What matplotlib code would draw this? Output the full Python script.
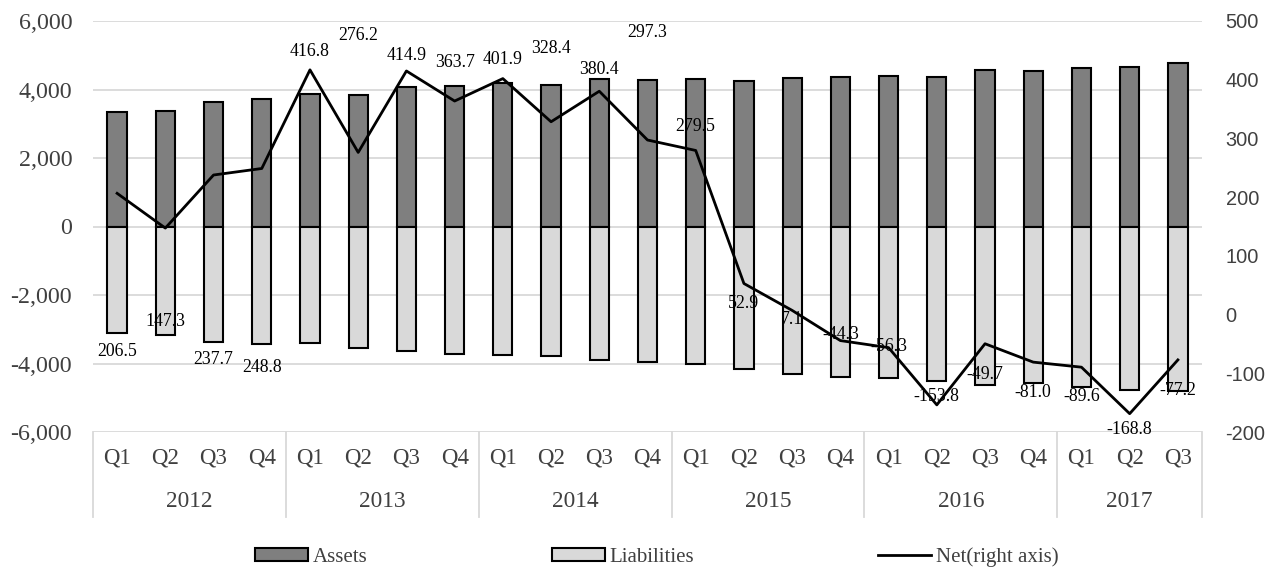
import matplotlib
matplotlib.use("Agg")
import matplotlib.pyplot as plt
from matplotlib.patches import Patch
from matplotlib.lines import Line2D
import numpy as np

quarters = ["Q1", "Q2", "Q3", "Q4"] * 5 + ["Q1", "Q2", "Q3"]
years = ["2012", "2013", "2014", "2015", "2016", "2017"]
year_counts = [4, 4, 4, 4, 4, 3]

assets = [3330, 3359, 3640, 3718, 3864, 3845, 4068, 4097, 4194, 4126, 4301, 4272,
          4311, 4243, 4350, 4369, 4408, 4379, 4573, 4553, 4641, 4660, 4777]
liabilities = [-3107, -3175, -3369, -3437, -3408, -3544, -3631, -3709, -3757, -3777, -3893, -3951,
               -4000, -4155, -4311, -4388, -4427, -4505, -4621, -4583, -4699, -4777, -4816]
net = [206.5, 147.3, 237.7, 248.8, 416.8, 276.2, 414.9, 363.7, 401.9, 328.4, 380.4, 297.3,
       279.5, 52.9, 7.1, -44.3, -56.3, -153.8, -49.7, -81.0, -89.6, -168.8, -77.2]

# layout: vertical placement of net data labels (left-axis units), as in the source
label_y = [-3641, -2767, -3874, -4107, 5098, 5564, 4981, 4777, 4865, 5185, 4573, 5651,
           2913, -2243, -2709, -3146, -3495, -4952, -4311, -4835, -4952, -5913, -4777]

serif = ["Liberation Serif", "DejaVu Serif"]
sans = ["Liberation Sans", "DejaVu Sans"]
txt_c = "#404040"

fig = plt.figure(figsize=(12.79, 5.69), dpi=100)
ax = fig.add_axes([93/1279, 1-432/569, (1202-93)/1279, 411/569])
ax2 = ax.twinx()

x = np.arange(len(assets))
grid_c = "#d9d9d9"
ax.bar(x, assets, width=0.40, color="#7f7f7f", edgecolor="black", linewidth=1.5, zorder=3)
ax.bar(x, liabilities, width=0.40, color="#d9d9d9", edgecolor="black", linewidth=1.5, zorder=3)
ax.set_ylim(-6000, 6000)
ax.set_yticks(np.arange(-6000, 6001, 2000))
ax.set_yticklabels([f"{v:,}" for v in range(-6000, 6001, 2000)], family=serif, fontsize=17.3,
                   color=txt_c)
ax.set_xlim(-0.5, len(assets) - 0.5)
ax.grid(axis="y", color=grid_c, linewidth=1.3, zorder=0)
ax.set_axisbelow(True)
ax.tick_params(axis="both", length=0)
ax.tick_params(axis="y", pad=15)
ax.set_xticks([])
for s in ax.spines.values():
    s.set_visible(False)

ax2.plot(x, net, color="black", linewidth=2, zorder=5)
ax2.set_ylim(-200, 500)
ax2.set_yticks(np.arange(-200, 501, 100))
ax2.set_yticklabels([str(v) for v in range(-200, 501, 100)], family=sans, fontsize=14.4,
                    color=txt_c)
ax2.tick_params(axis="y", length=0, pad=17)
for s in ax2.spines.values():
    s.set_visible(False)
ax2.patch.set_visible(False)

for i, (v, ly) in enumerate(zip(net, label_y)):
    ax2.text(i, ly, f"{v:.1f}", transform=ax.transData, ha="center", va="center",
             family=serif, fontsize=12.8, color="black", zorder=6)

# category axis
trans = ax.get_xaxis_transform()
for i, q in enumerate(quarters):
    ax.text(i, -0.064, q, transform=trans, ha="center", va="center", family=serif,
            fontsize=16.5, color=txt_c)
start = 0
bounds = [-0.5]
for yr, n in zip(years, year_counts):
    ax.text(start + (n - 1) / 2, -0.168, yr, transform=trans, ha="center", va="center",
            family=serif, fontsize=16.8, color=txt_c)
    start += n
    bounds.append(start - 0.5)
for b in bounds:
    ax.plot([b, b], [0, -0.207], transform=trans, color=grid_c, linewidth=1.3, clip_on=False)

# legend
items = [
    (Patch(facecolor="#7f7f7f", edgecolor="black", linewidth=1.5), "Assets", 255),
    (Patch(facecolor="#d9d9d9", edgecolor="black", linewidth=1.5), "Liabilities", 552),
    (Line2D([], [], color="black", linewidth=2), "Net(right axis)", 878),
]
for h, lab, px in items:
    leg = fig.legend([h], [lab], loc="center left", bbox_to_anchor=(px/1279, 1-557/569),
                     frameon=False, borderpad=0, borderaxespad=0, handlelength=2.55,
                     handleheight=0.58, handletextpad=0.22,
                     prop={"family": serif, "size": 15})
    for t in leg.get_texts():
        t.set_color(txt_c)

fig.savefig("out.png", dpi=100)
